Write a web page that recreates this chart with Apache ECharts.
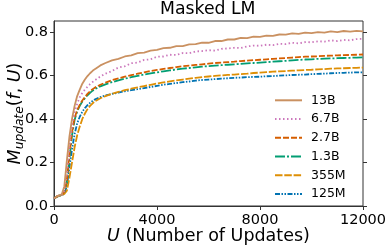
<!DOCTYPE html>
<html>
<head>
<meta charset="utf-8">
<script src="https://cdn.jsdelivr.net/npm/echarts@6/dist/echarts.min.js"></script>
<style>
html,body{margin:0;padding:0;background:#fff;}
#chart{width:390px;height:250px;}
</style>
</head>
<body>
<div id="chart"></div>
<script>
var updates = [0,100,200,300,400,500,600,700,800,900,1000,1100,1200,1300,1400,1500,1600,1800,2000,
  2250,2500,2750,3000,3250,3500,3750,4000,4250,4500,4750,5000,5250,5500,5750,6000,6250,6500,6750,7000,
  7250,7500,7750,8000,8250,8500,8750,9000,9250,9500,9750,10000,10250,10500,10750,11000,11250,11500,11750,12000];

var s13B = [.035,.044,.049,.053,.09,.21,.32,.40,.46,.505,.535,.562,.581,.597,.610,.621,.630,.646,.657,
  .669,.676,.687,.692,.702,.705,.714,.717,.725,.727,.735,.735,.743,.744,.751,.750,.758,.758,.765,.765,
  .772,.771,.778,.777,.783,.782,.788,.787,.793,.791,.797,.794,.799,.797,.802,.799,.804,.801,.805,.802];
var s6_7B = [.035,.044,.048,.052,.07,.15,.27,.37,.43,.47,.50,.52,.535,.548,.56,.57,.579,.595,.608,
  .62,.636,.642,.656,.659,.671,.674,.686,.687,.695,.694,.703,.702,.710,.712,.716,.714,.722,.724,.727,
  .726,.733,.737,.736,.741,.739,.745,.744,.750,.747,.753,.752,.757,.755,.761,.758,.763,.761,.767,.768];
var s2_7B = [.035,.043,.048,.051,.065,.12,.24,.34,.405,.44,.465,.485,.50,.515,.527,.537,.545,.557,.567,
  .578,.586,.594,.601,.608,.614,.620,.625,.630,.634,.638,.642,.645,.648,.651,.654,.657,.659,.661,.663,
  .666,.668,.670,.672,.674,.676,.678,.680,.682,.684,.686,.687,.688,.690,.691,.692,.693,.694,.695,.696];
var s1_3B = [.035,.043,.048,.051,.062,.11,.22,.325,.395,.435,.46,.48,.495,.509,.52,.53,.538,.55,.559,
  .569,.577,.585,.592,.598,.604,.609,.614,.619,.623,.627,.631,.634,.637,.640,.643,.645,.647,.649,.651,
  .653,.655,.657,.659,.661,.663,.665,.667,.669,.671,.673,.674,.676,.677,.678,.679,.680,.681,.682,.683];
var s355M = [.035,.042,.047,.05,.055,.07,.13,.20,.27,.325,.365,.40,.425,.445,.46,.472,.482,.495,.505,
  .516,.524,.532,.539,.545,.551,.557,.563,.568,.573,.577,.581,.585,.589,.592,.595,.598,.600,.602,.604,
  .606,.608,.611,.613,.615,.617,.619,.620,.622,.623,.625,.626,.628,.629,.631,.632,.633,.634,.635,.636];
var s125M = [.035,.042,.047,.05,.056,.09,.18,.26,.33,.38,.41,.433,.45,.463,.474,.483,.49,.50,.508,
  .515,.521,.527,.532,.537,.542,.547,.552,.557,.561,.565,.569,.572,.576,.579,.581,.583,.585,.587,.589,
  .590,.592,.593,.594,.596,.597,.599,.600,.602,.603,.604,.606,.607,.608,.610,.611,.612,.613,.614,.614];

var seriesNames = ['13B','6.7B','2.7B','1.3B','355M','125M'];
var seriesValues = [s13B, s6_7B, s2_7B, s1_3B, s355M, s125M];
var xTicks = [0,4000,8000,12000];
var yTicks = [0,0.2,0.4,0.6,0.8];

var colors = ['#ca9161','#cc78bc','#d55e00','#029e73','#de8f05','#0173b2'];
var dashes = ['solid',[1.5,2.5],[6,2],[10,2,2,2],[7.5,1.8],[5,1.5,1.5,1.5,1.5,1.5]];
var FONT = 'DejaVu Sans';

function pairs(vals){ return updates.map(function(u,i){ return [u, vals[i]]; }); }

var series = seriesNames.map(function(n,i){
  return {
    name: n, type: 'line', symbol: 'none', showSymbol: false, animation: false,
    data: pairs(seriesValues[i]), z: 10 - i,
    lineStyle: {color: colors[i], width: 1.8, type: dashes[i], cap: 'butt'},
    itemStyle: {color: colors[i]}
  };
});

var chart = echarts.init(document.getElementById('chart'), null, {renderer:'canvas'});
chart.setOption({
  animation: false,
  backgroundColor: '#fff',
  textStyle: {fontFamily: FONT},
  title: {
    text: 'Masked LM', left: 160, top: 1, padding: 0,
    textStyle: {fontFamily: FONT, fontSize: 17.3, fontWeight: 'normal', color: '#000'}
  },
  grid: {left: 54, right: 27, top: 21, bottom: 44, containLabel: false, outerBoundsMode: 'none',
    show: true, borderColor: '#333', borderWidth: 1, backgroundColor: 'transparent'},
  legend: {
    data: seriesNames, orient: 'vertical', left: 274, top: 93.3, padding: 0,
    itemWidth: 27, itemHeight: 14, itemGap: 4.75,
    itemStyle: {opacity: 0, borderWidth: 0},
    textStyle: {fontFamily: FONT, fontSize: 12.5, color: '#000', lineHeight: 14, padding: [0,0,0,4]}
  },
  xAxis: {
    type: 'value', min: 0, max: 12000, interval: 4000,
    axisLine: {show: true, lineStyle: {color: '#333', width: 1}},
    axisTick: {show: true, inside: false, length: 4, lineStyle: {color: '#333'}, customValues: xTicks},
    axisLabel: {fontFamily: FONT, fontSize: 14.5, color: '#000', margin: 6.5, customValues: xTicks,
      formatter: function(v){ return String(v); }},
    splitLine: {show: false},
    name: '{i|U}{r| (Number of Updates)}', nameLocation: 'middle', nameGap: 21, nameMoveOverlap: false,
    nameTextStyle: {rich: {
      i: {fontFamily: FONT, fontSize: 17.5, fontStyle: 'italic', color: '#000'},
      r: {fontFamily: FONT, fontSize: 17.5, color: '#000'}
    }}
  },
  yAxis: [{
    type: 'value', min: 0, max: 0.85, interval: 0.2, position: 'left',
    axisLine: {show: true, lineStyle: {color: '#333', width: 1}},
    axisTick: {show: true, inside: false, length: 4, lineStyle: {color: '#333'}, customValues: yTicks},
    axisLabel: {fontFamily: FONT, fontSize: 14.5, color: '#000', margin: 6, customValues: yTicks,
      formatter: function(v){ return v.toFixed(1); }},
    splitLine: {show: false},
    name: '{i|M}{sub|update}{r|(}{i|f}{r|, }{i|U}{r|)}', nameLocation: 'middle', nameGap: 28, nameRotate: 90,
    nameMoveOverlap: false,
    nameTextStyle: {rich: {
      i: {fontFamily: FONT, fontSize: 17.5, fontStyle: 'italic', color: '#000', lineHeight: 22},
      r: {fontFamily: FONT, fontSize: 17.5, color: '#000', lineHeight: 22},
      sub: {fontFamily: FONT, fontSize: 12.2, fontStyle: 'italic', color: '#000', lineHeight: 12, verticalAlign: 'bottom'}
    }}
  }, {
    type: 'value', min: 0, max: 0.85, interval: 0.2, position: 'right',
    axisLine: {show: false},
    axisTick: {show: true, inside: false, length: 4, lineStyle: {color: '#333'}, customValues: yTicks},
    axisLabel: {show: false},
    splitLine: {show: false}
  }],
  series: series
});
</script>
</body>
</html>
